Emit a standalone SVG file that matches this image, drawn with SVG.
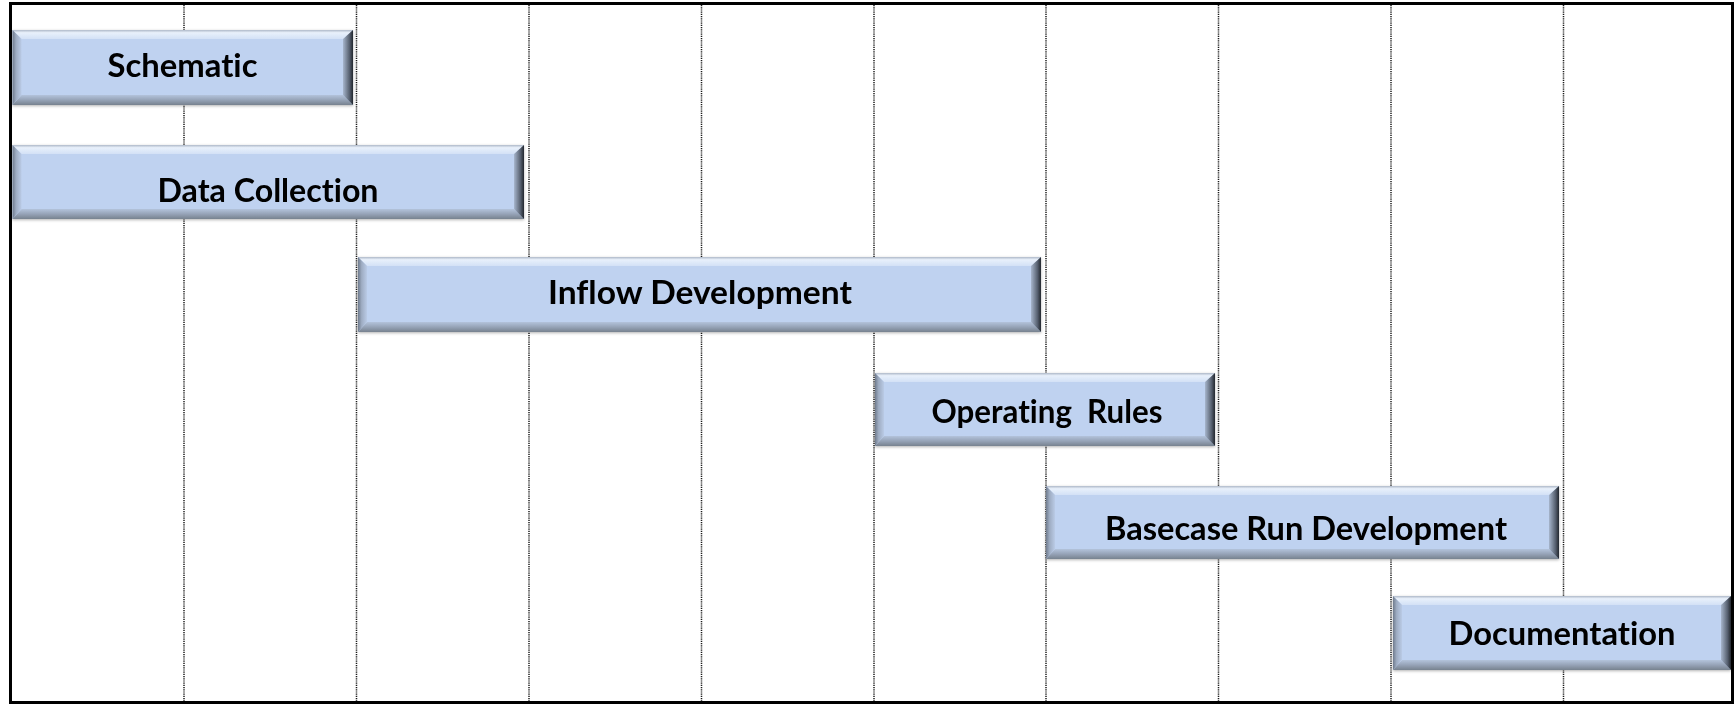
<svg xmlns="http://www.w3.org/2000/svg" width="1736" height="704" viewBox="0 0 1736 704">
  <defs>
    <style>
      .grid { stroke: #1a1a1a; stroke-width: 1.5; stroke-dasharray: 1.2 1; fill: none; }
      .frame { stroke: #000; stroke-width: 3; fill: none; }
      .face { fill: #BFD2F0; }
      .bt { fill: url(#gTop); }
      .bb { fill: url(#gBottom); }
      .bl { fill: url(#gLeft); }
      .br { fill: url(#gRight); }
      .label { font-family: Lato, "Open Sans", "Liberation Sans", sans-serif; font-weight: 700; font-size: 33px; fill: #000; text-anchor: middle; font-variant-ligatures: none; white-space: pre; }
    </style>
    <!-- bevel gradients: edge colour first, inner colour last -->
    <linearGradient id="gTop" x1="0" y1="0" x2="0" y2="1">
      <stop offset="0" stop-color="#AEB9C9"/>
      <stop offset="0.3" stop-color="#E8F0FB"/>
      <stop offset="1" stop-color="#D3E1F6"/>
    </linearGradient>
    <linearGradient id="gBottom" x1="0" y1="1" x2="0" y2="0">
      <stop offset="0" stop-color="#77828F"/>
      <stop offset="0.5" stop-color="#96A3B7"/>
      <stop offset="1" stop-color="#B3C3DB"/>
    </linearGradient>
    <linearGradient id="gLeft" x1="0" y1="0" x2="1" y2="0">
      <stop offset="0" stop-color="#6F7B8D"/>
      <stop offset="0.4" stop-color="#9EACC2"/>
      <stop offset="1" stop-color="#BACBE6"/>
    </linearGradient>
    <linearGradient id="gRight" x1="1" y1="0" x2="0" y2="0">
      <stop offset="0" stop-color="#22272F"/>
      <stop offset="0.35" stop-color="#56606F"/>
      <stop offset="1" stop-color="#A7B6CD"/>
    </linearGradient>
    <filter id="shadow" x="-5%" y="-20%" width="110%" height="140%">
      <feDropShadow dx="0" dy="1" stdDeviation="1.5" flood-color="#000" flood-opacity="0.3"/>
    </filter>
  </defs>

  <rect width="1736" height="704" fill="#fff"/>

  <!-- vertical dotted time grid -->
  <g id="grid">
    <line class="grid" x1="184" y1="5" x2="184" y2="701"/>
    <line class="grid" x1="356.5" y1="5" x2="356.5" y2="701"/>
    <line class="grid" x1="529" y1="5" x2="529" y2="701"/>
    <line class="grid" x1="701.5" y1="5" x2="701.5" y2="701"/>
    <line class="grid" x1="874" y1="5" x2="874" y2="701"/>
    <line class="grid" x1="1046" y1="5" x2="1046" y2="701"/>
    <line class="grid" x1="1218.5" y1="5" x2="1218.5" y2="701"/>
    <line class="grid" x1="1391" y1="5" x2="1391" y2="701"/>
    <line class="grid" x1="1563.5" y1="5" x2="1563.5" y2="701"/>
  </g>

  <rect id="frame" class="frame" x="10.5" y="3.5" width="1722" height="699"/>

  <g id="connectors"></g>

  <!-- task bars -->
  <g id="schematic" filter="url(#shadow)">
    <rect class="face" x="12.5" y="30" width="340.5" height="75"/>
    <polygon class="bt" points="12.5,30 353,30 344,39 21.5,39"/>
    <polygon class="bb" points="12.5,105 353,105 343,95 21.5,95"/>
    <polygon class="bl" points="12.5,30 21.5,39 21.5,95 12.5,105"/>
    <polygon class="br" points="353,30 343,39 343,95 353,105"/>
    <text class="label" x="182.5" y="77" textLength="150" lengthAdjust="spacingAndGlyphs">Schematic</text>
  </g>

  <g id="data-collection" filter="url(#shadow)">
    <rect class="face" x="12.5" y="145" width="511.5" height="74"/>
    <polygon class="bt" points="12.5,145 524,145 515,154 21.5,154"/>
    <polygon class="bb" points="12.5,219 524,219 514,209 21.5,209"/>
    <polygon class="bl" points="12.5,145 21.5,154 21.5,209 12.5,219"/>
    <polygon class="br" points="524,145 514,154 514,209 524,219"/>
    <text class="label" x="268" y="202" textLength="221" lengthAdjust="spacingAndGlyphs">Data Collection</text>
  </g>

  <g id="inflow-development" filter="url(#shadow)">
    <rect class="face" x="358" y="257" width="683" height="75"/>
    <polygon class="bt" points="358,257 1041,257 1032,266 367,266"/>
    <polygon class="bb" points="358,332 1041,332 1031,322 367,322"/>
    <polygon class="bl" points="358,257 367,266 367,322 358,332"/>
    <polygon class="br" points="1041,257 1031,266 1031,322 1041,332"/>
    <text class="label" x="700" y="304" textLength="304" lengthAdjust="spacingAndGlyphs">Inflow Development</text>
  </g>

  <g id="operating-rules" filter="url(#shadow)">
    <rect class="face" x="875" y="373" width="340" height="73"/>
    <polygon class="bt" points="875,373 1215,373 1206,382 884,382"/>
    <polygon class="bb" points="875,446 1215,446 1205,436 884,436"/>
    <polygon class="bl" points="875,373 884,382 884,436 875,446"/>
    <polygon class="br" points="1215,373 1205,382 1205,436 1215,446"/>
    <text class="label" x="1047" y="423" textLength="231" lengthAdjust="spacingAndGlyphs" xml:space="preserve">Operating  Rules</text>
  </g>

  <g id="basecase-run-development" filter="url(#shadow)">
    <rect class="face" x="1046" y="486" width="513" height="73"/>
    <polygon class="bt" points="1046,486 1559,486 1550,495 1055,495"/>
    <polygon class="bb" points="1046,559 1559,559 1549,549 1055,549"/>
    <polygon class="bl" points="1046,486 1055,495 1055,549 1046,559"/>
    <polygon class="br" points="1559,486 1549,495 1549,549 1559,559"/>
    <text class="label" x="1306" y="540" textLength="402" lengthAdjust="spacingAndGlyphs">Basecase Run Development</text>
  </g>

  <g id="documentation" filter="url(#shadow)">
    <rect class="face" x="1393" y="596" width="338" height="74"/>
    <polygon class="bt" points="1393,596 1731,596 1722,605 1402,605"/>
    <polygon class="bb" points="1393,670 1731,670 1721,660 1402,660"/>
    <polygon class="bl" points="1393,596 1402,605 1402,660 1393,670"/>
    <polygon class="br" points="1731,596 1721,605 1721,660 1731,670"/>
    <text class="label" x="1562" y="645" textLength="227" lengthAdjust="spacingAndGlyphs">Documentation</text>
  </g>
</svg>
